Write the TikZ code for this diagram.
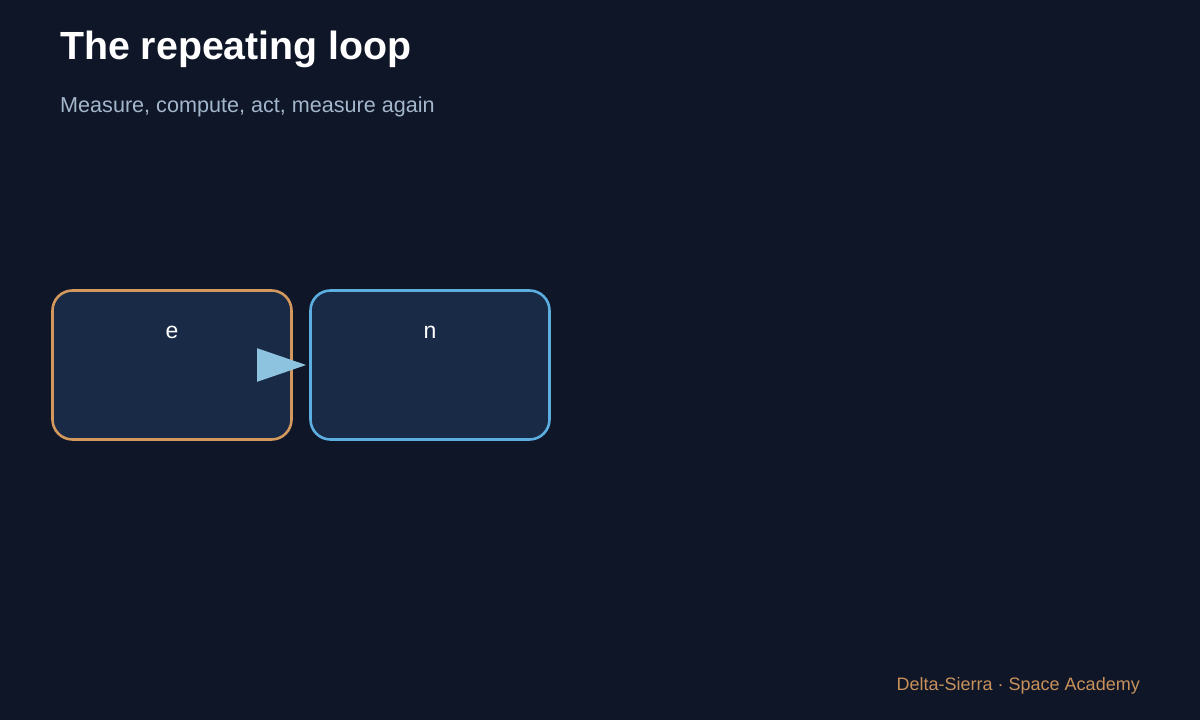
\documentclass[tikz,border=0pt]{standalone}
\usepackage{fontspec}
\setmainfont{Liberation Sans}
\usetikzlibrary{arrows.meta}
\definecolor{bgnavy}{HTML}{0E1628}
\definecolor{boxfill}{HTML}{182A45}
\definecolor{sensorange}{HTML}{D4975D}
\definecolor{ctrlblue}{HTML}{5DAEE0}
\definecolor{arrowblue}{HTML}{8EC3E0}
\definecolor{subgray}{HTML}{A3B6CB}
\definecolor{footorange}{HTML}{C8915A}
\tikzset{
    stagebox/.style={rectangle, rounded corners=20pt, fill=boxfill, line width=2.6pt, minimum width=239pt, minimum height=149pt, inner sep=0pt},
    boxlabel/.style={anchor=base, inner sep=0pt, text=white, font=\fontsize{23}{28}\selectfont}
}
\begin{document}
\begin{tikzpicture}[x=1pt, y=-1pt]
    \fill[bgnavy] (0, 0) rectangle (1200, 720);
    \useasboundingbox (0, 0) rectangle (1200, 720);
    \node[anchor=base west, inner sep=0pt, text=white, font=\fontsize{39.3}{47}\selectfont\bfseries] (title) at (60, 59.5) {The repeating loop};
    \node[anchor=base west, inner sep=0pt, text=subgray, font=\fontsize{21.6}{26}\selectfont] (subtitle) at (60, 112.5) {Measure, compute, act, measure again};
    \node[stagebox, draw=sensorange] (e) at (172, 365) {};
    \node[stagebox, draw=ctrlblue] (n) at (430, 365) {};
    \node[boxlabel] (e-text) at ([yshift=-49pt]e.north) {e};
    \node[boxlabel] (n-text) at ([yshift=-49pt]n.north) {n};
    \draw[arrowblue, line width=2pt, shorten >=3pt, -{Triangle[length=49pt, width=33pt]}] (e) -- (n);
    \node[anchor=base east, inner sep=0pt, text=footorange, font=\fontsize{18}{22}\selectfont] (footer) at (1140, 690) {Delta-Sierra · Space Academy};
\end{tikzpicture}
\end{document}
